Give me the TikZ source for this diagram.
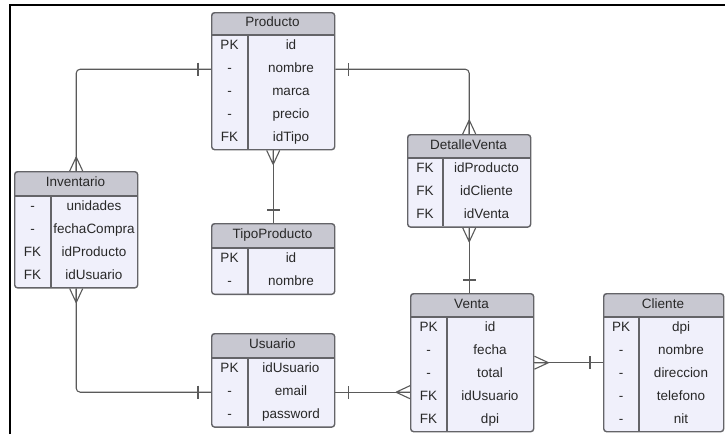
\documentclass[tikz,border=0pt]{standalone}
\usepackage{fontspec}
\setmainfont{Liberation Sans}
\usetikzlibrary{calc}
\definecolor{hdrc}{RGB}{200,200,209}
\definecolor{bodyc}{RGB}{240,240,251}
\definecolor{bordc}{RGB}{100,100,104}
\definecolor{linec}{RGB}{90,90,90}
\definecolor{txtc}{RGB}{40,40,40}
\tikzset{
  ebox/.style={draw=bordc, line width=1.4pt, rounded corners=3pt, inner sep=0pt, anchor=north west},
  cell/.style={text=txtc, font=\fontsize{13.5}{16}\selectfont, inner sep=0pt, text height=9.7pt, text depth=2.8pt},
  sepl/.style={draw=bordc, line width=1.2pt},
  conn/.style={draw=linec, line width=1.1pt},
}
% name, x1, y1, x2, nrows, header bottom, divider x, title, rows
\newcommand\entity[9]{%
  \pgfmathsetmacro\ybot{#6+#5*22.8}
  \fill[hdrc, rounded corners=3pt] (#2,#3) rectangle (#4,\ybot);
  \fill[bodyc, rounded corners=3pt] (#2,#6) rectangle (#4,\ybot);
  \fill[bodyc] (#2,#6) rectangle (#4,#6+6);
  \node[ebox, minimum width={(#4-#2)*1pt}, minimum height={(\ybot-#3)*1pt}] (#1) at (#2,#3) {};
  \draw[sepl] (#2,#6) -- (#4,#6);
  \draw[sepl] (#7,#6) -- (#7,\ybot);
  \node[cell] (#1-t) at ({(#2+#4)/2},{(#3+#6)/2}) {#8};
  \foreach \k/\f [count=\i] in {#9} {
    \node[cell] (#1-k\i) at ({(#2+#7)/2},{#6+(\i-0.5)*22.8}) {\k};
    \node[cell] (#1-f\i) at ({(#7+#4)/2},{#6+(\i-0.5)*22.8}) {\f};
  }
}
\newcommand\crowfoot[2]{\draw[conn] ([shift={(#2:14)}]#1) -- ([shift={({#2+90}:6.5)}]#1) ([shift={(#2:14)}]#1) -- (#1) ([shift={(#2:14)}]#1) -- ([shift={({#2-90}:6.5)}]#1);}
\newcommand\onebar[2]{\draw[conn] ([shift={(#2:13)}]#1) ++({#2+90}:6.5) -- ++({#2-90}:13);}
\begin{document}
\begin{tikzpicture}[x=1pt, y=-1pt]
\useasboundingbox (0,0) rectangle (725,434);
\fill[white] (0,0) rectangle (725,434);
\draw[black, line width=2pt] (10,434) -- (10,5) -- (725,5);

\entity{prod}{211}{12}{334}{5}{35}{248}{Producto}{PK/id, -/nombre, -/marca, -/precio, FK/idTipo}
\entity{inv}{14}{171}{137}{4}{196}{51}{Inventario}{-/unidades, -/fechaCompra, FK/idProducto, FK/idUsuario}
\entity{det}{407}{134}{530}{3}{158}{443}{DetalleVenta}{FK/idProducto, FK/idCliente, FK/idVenta}
\entity{tipo}{211}{223}{334}{2}{248}{248}{TipoProducto}{PK/id, -/nombre}
\entity{usu}{211}{333}{334}{3}{358}{248}{Usuario}{PK/idUsuario, -/email, -/password}
\entity{venta}{410}{293}{533}{5}{317}{447}{Venta}{PK/id, -/fecha, -/total, FK/idUsuario, FK/dpi}
\entity{cli}{603}{293}{723}{5}{317}{639}{Cliente}{PK/dpi, -/nombre, -/direccion, -/telefono, -/nit}

\coordinate (pw) at (prod.west |- prod-f2);
\coordinate (pe) at (prod.east |- prod-f2);
\coordinate (vt) at (det.south |- venta.north);
\coordinate (uw) at (usu.west |- usu-f2);
\coordinate (ue) at (usu.east |- usu-f2);
\coordinate (vw) at (venta.west |- usu-f2);
\coordinate (ve) at (venta.east);
\coordinate (cw) at (venta.east -| cli.west);

\draw[conn, rounded corners=4pt] (pw) -| (inv.north);
\draw[conn, rounded corners=4pt] (pe) -| (det.north);
\draw[conn] (prod.south) -- (tipo.north);
\draw[conn] (det.south) -- (vt);
\draw[conn, rounded corners=4pt] (inv.south) |- (uw);
\draw[conn] (ue) -- (vw);
\draw[conn] (ve) -- (cw);

\onebar{pw}{180} \crowfoot{inv.north}{270}
\onebar{pe}{0} \crowfoot{det.north}{270}
\crowfoot{prod.south}{90} \onebar{tipo.north}{270}
\crowfoot{det.south}{90} \onebar{vt}{270}
\crowfoot{inv.south}{90} \onebar{uw}{180}
\onebar{ue}{0} \crowfoot{vw}{180}
\crowfoot{ve}{0} \onebar{cw}{180}
\end{tikzpicture}
\end{document}
